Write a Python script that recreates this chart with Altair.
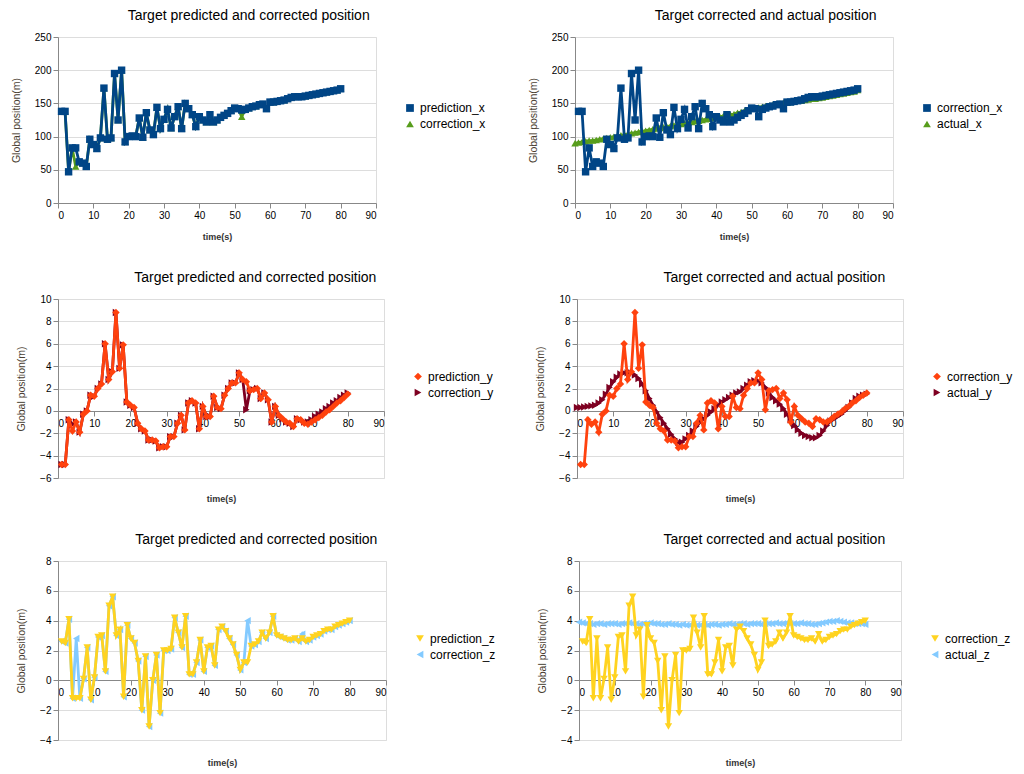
import altair as alt
import pandas as pd

t_est = list(range(1, 81))
t_act = list(range(0, 81))

pred_x = [138, 138, 47, 83, 83, 62, 60, 55, 96, 88,
          82, 98, 173, 96, 98, 195, 125, 200, 92, 100,
          101, 100, 128, 99, 136, 110, 103, 144, 112, 126,
          141, 113, 130, 145, 112, 150, 142, 133, 115, 130,
          125, 122, 133, 122, 125, 129, 132, 135, 139, 143,
          142, 140, 141, 143, 145, 146, 148, 149, 142, 152,
          152, 153, 154, 155, 157, 159, 160, 160, 160, 161,
          162, 163, 164, 165, 166, 167, 168, 169, 170, 172]
corr_x = [138, 138, 47, 83, 55, 62, 60, 55, 96, 88,
          82, 98, 173, 96, 98, 195, 125, 200, 92, 100,
          101, 100, 128, 99, 136, 110, 103, 144, 112, 126,
          141, 113, 130, 145, 112, 150, 142, 133, 115, 130,
          125, 122, 133, 122, 125, 129, 132, 135, 139, 143,
          142, 130, 141, 143, 145, 146, 148, 149, 142, 152,
          152, 153, 154, 155, 157, 159, 160, 160, 160, 161,
          162, 163, 164, 165, 166, 167, 168, 169, 170, 172]
act_x = [90, 91, 92, 93, 94, 94, 95, 96, 97, 98,
         99, 100, 101, 102, 103, 104, 105, 106, 107, 108,
         109, 110, 111, 112, 113, 114, 115, 116, 117, 118,
         119, 120, 121, 122, 123, 124, 125, 126, 127, 128,
         129, 130, 131, 132, 133, 134, 136, 137, 139, 140,
         142, 143, 144, 145, 146, 147, 148, 149, 150, 151,
         151, 152, 153, 154, 154, 155, 156, 157, 157, 158,
         159, 160, 161, 162, 163, 164, 165, 166, 167, 168,
         170]

pred_y = [-4.8, -4.8, -0.8, -1.8, -1.0, -1.9, -0.3, 0.0, 1.4, 1.3,
          2.0, 2.4, 6.0, 2.8, 3.5, 8.8, 3.8, 5.9, 0.8, 0.5,
          0.3, -1.1, -1.6, -1.8, -2.6, -2.6, -2.7, -3.3, -3.2, -3.2,
          -2.3, -2.3, -1.1, -0.4, -1.7, 0.7, 0.9, 0.7, -1.6, 0.4,
          -0.5, -0.5, 1.3, 0.3, 0.2, 1.4, 2.0, 2.5, 2.5, 3.4,
          2.8, 2.6, 1.8, 1.9, 2.0, 1.1, 1.6, 1.0, -1.0, 0.4,
          -0.4, -0.7, -1.0, -1.1, -1.4, -0.7, -0.8, -1.1, -1.2, -1.0,
          -0.8, -0.6, -0.4, -0.1, 0.1, 0.4, 0.7, 0.9, 1.2, 1.5]
corr_y = [-4.8, -4.8, -0.8, -1.2, -1.0, -1.9, -0.3, 0.0, 1.4, 1.3,
          2.0, 2.4, 6.0, 2.8, 3.5, 8.8, 3.8, 5.9, 0.8, 0.5,
          0.3, -1.1, -1.6, -1.8, -2.6, -2.6, -2.7, -3.3, -3.2, -3.2,
          -2.3, -2.3, -1.1, -0.4, -1.7, 0.7, 0.9, 0.7, -1.6, 0.4,
          -0.5, -0.5, 1.3, 0.3, 0.2, 1.4, 2.0, 2.5, 2.5, 3.4,
          2.8, 0.1, 1.8, 1.9, 2.0, 1.1, 1.6, 1.0, -1.0, 0.4,
          -0.4, -0.7, -1.0, -1.1, -1.4, -0.7, -0.8, -1.0, -1.0, -0.8,
          -0.5, -0.3, -0.1, 0.2, 0.4, 0.7, 0.9, 1.2, 1.4, 1.6]
act_y = [0.3, 0.3, 0.35, 0.4, 0.45, 0.5, 0.7, 1.0, 1.5, 2.1,
         2.6, 3.0, 3.3, 3.4, 3.4, 3.4, 3.2, 2.9, 2.4, 1.8,
         1.1, 0.5, -0.1, -0.6, -1.1, -1.6, -2.1, -2.5, -2.8, -2.8,
         -2.5, -2.2, -1.8, -1.4, -1.0, -0.7, -0.4, -0.1, 0.2, 0.5,
         0.8, 1.0, 1.2, 1.4, 1.6, 1.7, 2.0, 2.3, 2.6, 2.7,
         2.7, 2.5, 2.1, 1.6, 1.2, 0.9, 0.6, 0.2, -0.3, -0.8,
         -1.3, -1.7, -2.0, -2.2, -2.3, -2.4, -2.4, -2.2, -1.8, -1.3,
         -0.9, -0.7, -0.5, -0.3, 0.0, 0.3, 0.7, 1.1, 1.3, 1.4,
         1.5]

pred_z = [2.6, 2.5, 4.1, -1.2, -1.2, -1.2, 0.1, 2.2, -1.3, 0.2,
          2.9, 3.0, 0.6, 5.0, 5.6, 3.0, 3.4, -1.1, 3.7, 2.8,
          2.5, 1.3, -2.0, 1.6, -3.1, 0.0, 1.7, -2.2, 2.0, 2.0,
          2.1, 4.2, 3.2, 2.2, 4.3, 0.4, 0.4, 1.2, 2.7, 0.6,
          2.2, 2.3, 1.0, 3.4, 3.6, 3.3, 2.8, 2.4, 1.7, 0.7,
          1.2, 1.2, 2.3, 2.4, 2.6, 3.2, 2.8, 3.2, 4.3, 3.0,
          2.9, 2.8, 2.7, 2.7, 2.8, 2.6, 2.8, 2.6, 2.7, 2.9,
          3.0, 3.1, 3.3, 3.4, 3.4, 3.6, 3.7, 3.8, 3.9, 4.0]
corr_z = [2.6, 2.5, 4.1, -1.2, 2.8, -1.2, 0.1, 2.2, -1.3, 0.2,
          2.9, 3.0, 0.6, 5.0, 5.6, 3.0, 3.4, -1.1, 3.7, 2.8,
          2.5, 1.3, -2.0, 1.6, -3.1, 0.0, 1.7, -2.2, 2.0, 2.0,
          2.1, 4.2, 3.2, 2.2, 4.3, 0.4, 0.4, 1.2, 2.7, 0.6,
          2.2, 2.3, 1.0, 3.4, 3.6, 3.3, 2.8, 2.4, 1.7, 0.7,
          1.2, 4.0, 2.3, 2.4, 2.6, 3.2, 2.8, 3.2, 4.3, 3.0,
          2.9, 2.8, 2.7, 2.7, 2.8, 2.6, 3.1, 2.6, 2.7, 2.9,
          3.0, 3.1, 3.3, 3.4, 3.4, 3.6, 3.7, 3.8, 3.9, 4.0]
act_z = [3.9, 3.85, 3.8, 3.8, 3.75, 3.8, 3.8, 3.75, 3.8, 3.8,
         3.8, 3.75, 3.8, 3.8, 3.85, 3.8, 3.8, 3.75, 3.8, 3.8,
         3.85, 3.8, 3.8, 3.75, 3.75, 3.8, 3.75, 3.75, 3.7, 3.75,
         3.7, 3.7, 3.75, 3.7, 3.7, 3.75, 3.7, 3.75, 3.75, 3.7,
         3.75, 3.75, 3.8, 3.75, 3.75, 3.8, 3.8, 3.75, 3.8, 3.8,
         3.8, 3.75, 3.8, 3.8, 3.8, 3.85, 3.8, 3.8, 3.85, 3.8,
         3.8, 3.8, 3.85, 3.8, 3.8, 3.75, 3.75, 3.8, 3.85, 3.9,
         3.95, 3.95, 4.0, 3.95, 3.9, 3.85, 3.85, 3.8, 3.8, 3.8,
         3.75]

BLUE, ORANGE, YELLOW = "#004586", "#ff420e", "#ffd320"
GREEN, DARKRED, LIGHTBLUE = "#579d1c", "#7e0021", "#83caff"
FONT = "Liberation Sans"


def panel(title, s1, s2, ydom, ystep, w, h, xoffset, xtitle_y):
    names = [s1[0], s2[0]]
    cscale = alt.Scale(domain=names, range=[s1[3], s2[3]])
    sscale = alt.Scale(domain=names, range=[s1[4], s2[4]])
    leg = alt.Legend(orient="none", legendX=w + 28, legendY=h / 2 - 18, title=None,
                     labelFontSize=12, labelFont=FONT, labelColor="#000000",
                     symbolSize=60, rowPadding=4, symbolStrokeWidth=0)
    xkw = dict(values=list(range(0, 91, 10)), grid=False, title="time(s)",
               offset=xoffset, titleFontSize=9, titleFont=FONT, titleFontWeight="bold",
               titleColor="#333333")
    if xtitle_y is None:
        xkw["titlePadding"] = 12
    else:
        xkw["titleY"] = xtitle_y
        xkw["titleBaseline"] = "middle"
    xax = alt.Axis(**xkw)
    yax = alt.Axis(values=list(range(ydom[0], ydom[1] + 1, ystep)), grid=True,
                   title="Global position(m)", titleFontSize=10.5, titleFont=FONT,
                   titleFontWeight="normal", titleColor="#4b3f33", titlePadding=13)
    layers = []
    for s in (s2, s1):
        df = pd.DataFrame({"t": s[1], "v": s[2], "series": s[0]})
        base = alt.Chart(df).encode(
            x=alt.X("t:Q", scale=alt.Scale(domain=[0, 90], nice=False), axis=xax),
            y=alt.Y("v:Q", scale=alt.Scale(domain=ydom, nice=False), axis=yax),
        )
        line = base.mark_line(strokeWidth=2.8, color=s[3])
        pts = base.mark_point(filled=True, size=55, opacity=1).encode(
            color=alt.Color("series:N", scale=cscale, legend=leg),
            shape=alt.Shape("series:N", scale=sscale, legend=leg),
        )
        layers += [line, pts]
    return alt.layer(*layers).properties(
        width=w, height=h,
        title=alt.Title(title, fontSize=14, font=FONT, fontWeight="normal",
                        color="#000000", anchor="middle", frame="bounds", offset=9),
    )


TP = "Target predicted and corrected position"
TA = "Target corrected and actual position"

p1 = panel(TP, ("prediction_x", t_est, pred_x, BLUE, "square"),
           ("correction_x", t_est, corr_x, GREEN, "triangle-up"),
           [0, 250], 50, 318, 166, 0, None)
p2 = panel(TA, ("correction_x", t_est, corr_x, BLUE, "square"),
           ("actual_x", t_act, act_x, GREEN, "triangle-up"),
           [0, 250], 50, 318, 166, 0, None)
p3 = panel(TP, ("prediction_y", t_est, pred_y, ORANGE, "diamond"),
           ("correction_y", t_est, corr_y, DARKRED, "triangle-right"),
           [-6, 10], 2, 326, 179, -67, 87)
p4 = panel(TA, ("correction_y", t_est, corr_y, ORANGE, "diamond"),
           ("actual_y", t_act, act_y, DARKRED, "triangle-right"),
           [-6, 10], 2, 326, 179, -67, 87)
p5 = panel(TP, ("prediction_z", t_est, pred_z, YELLOW, "triangle-down"),
           ("correction_z", t_est, corr_z, LIGHTBLUE, "triangle-left"),
           [-4, 8], 2, 328, 179, -60, 82)
p6 = panel(TA, ("correction_z", t_est, corr_z, YELLOW, "triangle-down"),
           ("actual_z", t_act, act_z, LIGHTBLUE, "triangle-left"),
           [-4, 8], 2, 322, 179, -60, 82)

rows = []
for a, b in ((p1, p2), (p3, p4), (p5, p6)):
    rows.append(alt.hconcat(a, b, spacing=40).resolve_scale(color="independent", shape="independent"))

chart = alt.vconcat(*rows, spacing=28).resolve_scale(
    color="independent", shape="independent"
).properties(
    padding={"left": 2, "top": 0, "right": 0, "bottom": 0}
).configure_view(
    stroke="#b3b3b3", strokeWidth=1
).configure_axis(
    labelFont=FONT, labelFontSize=11, labelColor="#222222",
    domainColor="#b3b3b3", tickColor="#b3b3b3", tickSize=4, labelPadding=4,
    gridColor="#b3b3b3", gridWidth=1,
).configure(background="#ffffff")

chart.save("out.html", embed_options={"renderer": "svg", "actions": False})
